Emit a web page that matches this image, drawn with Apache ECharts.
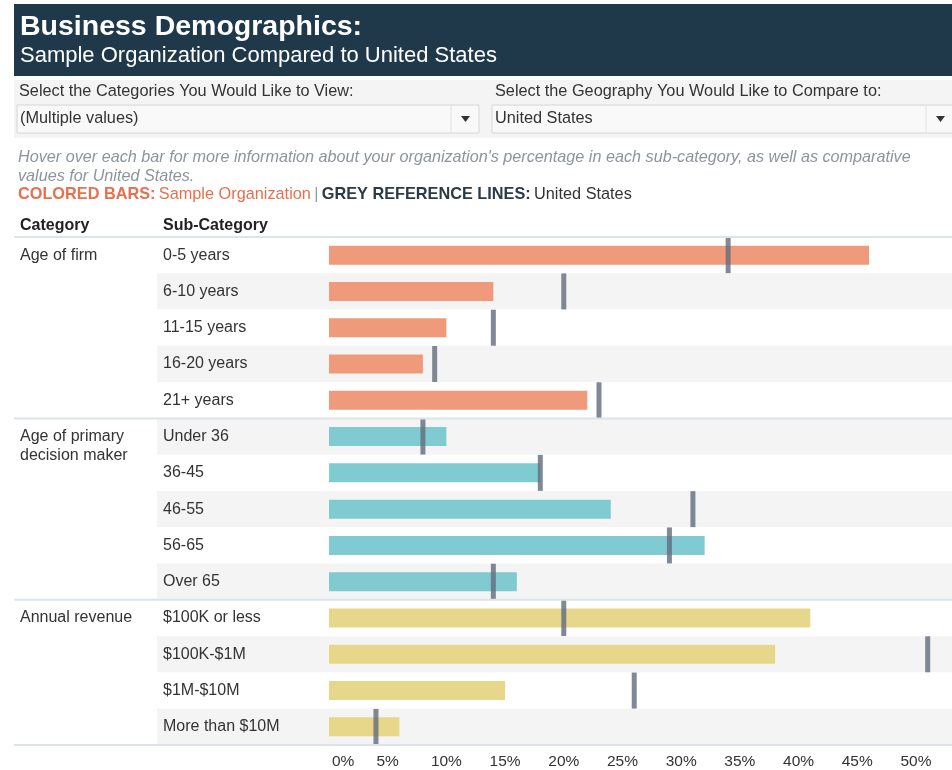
<!DOCTYPE html>
<html><head><meta charset="utf-8">
<script src="https://cdn.jsdelivr.net/npm/echarts@6/dist/echarts.min.js"></script>
<style>html,body{margin:0;padding:0;background:#fff}#c{width:952px;height:770px}</style>
</head><body><div id="c"></div>
<script>
const groups = ["Age of firm", "Age of primary\ndecision maker", "Annual revenue"];
const groupSizes = [5, 5, 4];
const subCategories = ["0-5 years","6-10 years","11-15 years","16-20 years","21+ years",
  "Under 36","36-45","46-55","56-65","Over 65",
  "$100K or less","$100K-$1M","$1M-$10M","More than $10M"];
const orgValues = [46, 14, 10, 8, 22, 10, 18, 24, 32, 16, 41, 38, 15, 6];
const usValues  = [34, 20, 14, 9, 23, 8, 18, 31, 29, 14, 20, 51, 26, 4];
const groupColors = ["#ef9a7a", "#80cbd1", "#e7d78a"];
const tickLabels = [0,5,10,15,20,25,30,35,40,45,50];

const FONT = "'Liberation Sans', Arial, sans-serif";
const chart = echarts.init(document.getElementById('c'), null, {renderer:'canvas'});

const barData = [];
let gi = 0, cnt = 0;
orgValues.forEach((v,i)=>{
  barData.push({value: v, itemStyle:{color: groupColors[gi]}});
  cnt++; if (cnt >= groupSizes[gi]) { gi++; cnt = 0; }
});

const base = {
  animation: false,
  textStyle: {fontFamily: FONT},
  grid: [
    {left: 329, top: 237, right: 0, height: 508},
    {left: 157, top: 237, right: 0, height: 508}
  ],
  xAxis: [
    {gridIndex: 0, type: 'value', min: 0, max: 53.07, interval: 5,
     axisLine:{show:false}, axisTick:{show:false}, splitLine:{show:false},
     axisLabel:{fontSize: 15.5, color:'#333', margin: 9, fontFamily: FONT, alignMinLabel:'left',
       showMaxLabel: false,
       formatter: v => tickLabels.indexOf(v) < 0 ? '' : (v === 0 ? '{z|0%}' : v + '%'),
       rich:{z:{fontSize:15.5, color:'#333', padding:[0,0,0,3]}}}},
    {gridIndex: 1, type: 'value', show: false, min: 0, max: 1}
  ],
  yAxis: [
    {gridIndex: 0, type: 'category', data: subCategories, inverse: true, show: false},
    {gridIndex: 1, type: 'category', data: subCategories, inverse: true,
     axisLine:{show:false}, axisTick:{show:false},
     splitArea:{show:true, areaStyle:{color:['#ffffff','#f4f4f4']}},
     axisLabel:{inside: true, margin: 6, fontSize: 16, color:'#333', fontFamily: FONT}}
  ],
  series: [
    {type:'bar', xAxisIndex:0, yAxisIndex:0, data: barData, barWidth: 19, z: 2},
    {type:'scatter', xAxisIndex:0, yAxisIndex:0, data: usValues.map((v,i)=>[v, subCategories[i]]),
     symbol:'rect', symbolSize:[5,36], itemStyle:{color:'#626c7d'}, z: 3}
  ]
};
chart.setOption(base);

const py = name => chart.convertToPixel({yAxisIndex: 1}, name);
const rowH = py(subCategories[1]) - py(subCategories[0]);

const g = [];
// header
g.push({type:'rect', shape:{x:14,y:4,width:938,height:72}, style:{fill:'#1f394b'}});
g.push({type:'text', x:20, y:27, style:{text:'Business Demographics:', font:'bold 28.5px '+FONT, fill:'#fff', verticalAlign:'middle'}});
g.push({type:'text', x:20, y:56, style:{text:'Sample Organization Compared to United States', font:'22px '+FONT, fill:'#fff', verticalAlign:'middle'}});
// dropdown panel
g.push({type:'rect', shape:{x:14,y:80,width:938,height:58}, style:{fill:'#f4f4f4'}});
g.push({type:'text', x:19, y:92, style:{text:'Select the Categories You Would Like to View:', font:'16.3px '+FONT, fill:'#333', verticalAlign:'middle'}});
g.push({type:'text', x:495, y:92, style:{text:'Select the Geography You Would Like to Compare to:', font:'16.3px '+FONT, fill:'#333', verticalAlign:'middle'}});
[[17,462,'(Multiple values)'],[492,462,'United States']].forEach(([x,w,t])=>{
  g.push({type:'rect', shape:{x:x,y:105,width:w,height:28}, style:{fill:'#f9f9f9', stroke:'#d6d6d6', lineWidth:1}});
  g.push({type:'line', shape:{x1:x+w-28,y1:105,x2:x+w-28,y2:133}, style:{stroke:'#e2e2e2', lineWidth:1}});
  g.push({type:'text', x:x+3, y:119, style:{text:t, font:'16.3px '+FONT, fill:'#333', verticalAlign:'middle'}});
  g.push({type:'polygon', shape:{points:[[x+w-18,116],[x+w-9,116],[x+w-13.5,122]]}, style:{fill:'#333'}});
});
// info text
g.push({type:'text', x:18, y:157, style:{text:"Hover over each bar for more information about your organization's percentage in each sub-category, as well as comparative", font:'italic 16.2px '+FONT, fill:'#8d949c', verticalAlign:'middle'}});
g.push({type:'text', x:18, y:176, style:{text:'values for United States.', font:'italic 16.2px '+FONT, fill:'#8d949c', verticalAlign:'middle'}});
g.push({type:'text', x:18, y:195, style:{
  text:'{a|COLORED BARS:} {b|Sample Organization} {c||} {d|GREY REFERENCE LINES:} {e|United States}',
  verticalAlign:'middle',
  rich:{
    a:{font:'bold 16.3px '+FONT, fill:'#e8704f'},
    b:{font:'16.3px '+FONT, fill:'#e8704f'},
    c:{font:'16.3px '+FONT, fill:'#999'},
    d:{font:'bold 16.3px '+FONT, fill:'#2b3a46'},
    e:{font:'16.3px '+FONT, fill:'#333'}
  }}});
// column headers
g.push({type:'text', x:20, y:226, style:{text:'Category', font:'bold 16px '+FONT, fill:'#222', verticalAlign:'middle'}});
g.push({type:'text', x:163, y:226, style:{text:'Sub-Category', font:'bold 16px '+FONT, fill:'#222', verticalAlign:'middle'}});

// group labels and separators
let idx = 0;
const sepYs = [py(subCategories[0]) - rowH/2];
groups.forEach((name, k)=>{
  const cy = py(subCategories[idx]);
  g.push({type:'text', x:20, y:cy - 9.5, style:{text:name, font:'16px '+FONT, fill:'#333', verticalAlign:'top', lineHeight:19}});
  idx += groupSizes[k];
  sepYs.push(py(subCategories[idx-1]) + rowH/2);
});
sepYs.forEach(y=>{
  g.push({type:'line', shape:{x1:14,y1:y,x2:952,y2:y}, style:{stroke:'#dde3e8', lineWidth:2}, z:10});
});

chart.setOption({graphic: g});
</script>
</body></html>
